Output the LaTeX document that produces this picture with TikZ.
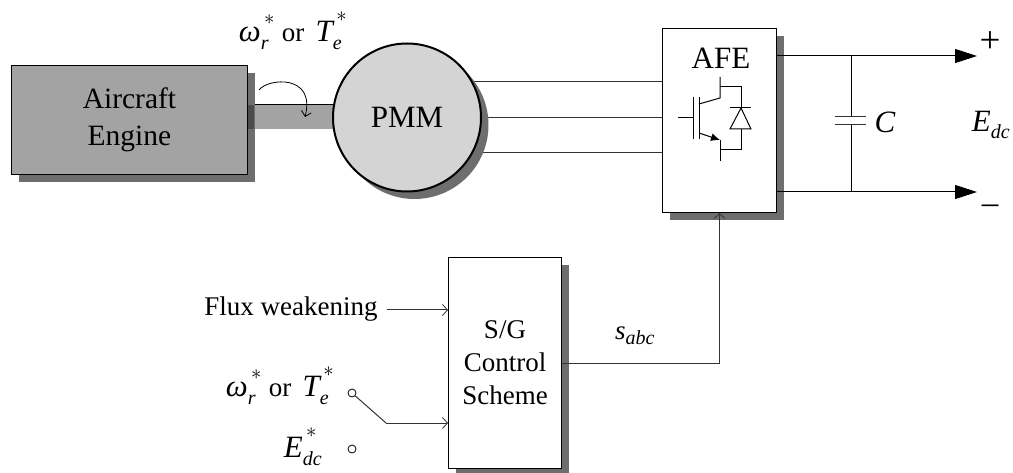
\documentclass[tikz,border=0pt]{standalone}
\usepackage{amsmath}
\usepackage{fontspec}
\setmainfont{Liberation Serif}
\usetikzlibrary{arrows.meta,shadows}
\definecolor{shadowgray}{HTML}{6E6E6E}
\definecolor{enginegray}{HTML}{A3A3A3}
\definecolor{pmmgray}{HTML}{D4D4D4}
\newcommand{\bigfont}{\fontsize{31}{34}\selectfont}
\newcommand{\midfont}{\fontsize{27}{32}\selectfont}
\newcommand{\starsym}[2]{{\bigfont$\textit{#1}^{\raisebox{8pt}{$\scriptstyle\,*$}}_{\raisebox{-2pt}{\textit{\scriptsize\fontsize{20}{20}\selectfont #2}}}$}}
\newcommand{\speedortorque}{\starsym{ω}{r} or \,\starsym{T}{e}}
\tikzset{
  block/.style={draw=black,fill=white,line width=1pt,inner sep=0pt,anchor=north west,
    align=center,copy shadow={shadow xshift=7.5pt,shadow yshift=-7.5pt,fill=shadowgray,draw=none}},
  wire/.style={draw=black!80,line width=1pt},
  thinarrow/.style={wire,-{Straight Barb[length=5pt,width=11pt,line width=.8pt]}},
  bigarrow/.style={wire,-{Triangle[length=22pt,width=14pt]}},
  device/.style={draw=black,line width=1pt},
  label/.style={inner sep=0pt,font=\midfont},
  contact/.style={circle,draw=black,fill=white,line width=.8pt,minimum size=8pt,inner sep=0pt}
}
\begin{document}
\begin{tikzpicture}[x=1pt,y=-1pt,>=stealth]
  \useasboundingbox (0,0) rectangle (1013,473);

  % shaft
  \node[fill=enginegray,minimum width=90pt,minimum height=24pt,inner sep=0pt] (shaft) at (290,117) {};
  \draw[line width=1pt] (shaft.north west) -- (shaft.north east);

  % engine and machine
  \node[block,fill=enginegray,minimum width=236pt,minimum height=109pt,font=\fontsize{29.5}{35}\selectfont] (engine) at (11,65) {Aircraft\\[2pt]Engine};
  \fill[black!70] (shaft.north west -| engine.east) rectangle (254,129);

  % three phases
  \foreach \n/\y in {a/82,b/118,c/153} {
    \coordinate (afe\n) at (662,\y);
    \coordinate (pmm\n) at (420,\y);
    \draw[wire] (pmm\n) -- (afe\n);
  }
  \node[circle,draw=black,fill=pmmgray,line width=2pt,minimum size=148pt,inner sep=0pt,font=\bigfont,
    copy shadow={shadow xshift=7.5pt,shadow yshift=-7.5pt,fill=shadowgray,draw=none}] (pmm) at (407,117.5) {PMM};

  % rotation of the shaft
  \coordinate (rotstart) at (259,90);
  \coordinate (rotend) at (305,117);
  \draw[line width=.8pt,-{Straight Barb[length=5pt,width=10pt,line width=.8pt]}] (rotstart)
    .. controls (268,78) and (316,74) .. (rotend);
  \node[label] (speedtop) at (293,31) {\speedortorque};

  % converter
  \node[block,minimum width=114pt,minimum height=184pt] (afe) at (662,28) {};
  \node[inner sep=0pt,font=\bigfont] (afelabel) at (721,58) {AFE};

  % igbt with diode
  \draw[device] (678,118) -- (693,118);
  \draw[device] (693,97) -- (693,139);
  \draw[device] (699,97) -- (699,139);
  \draw[device] (699,104) -- (720,98) -- (720,77);
  \draw[device] (720,87) -- (741,87) -- (741,150) -- (720,150);
  \draw[device,-{Latex[length=9pt,width=8pt]}] (699,133) -- (720,140);
  \draw[device] (720,140) -- (720,161);
  \draw[device] (730,108) -- (751,108);
  \draw[device,fill=white] (741,108) -- (730,129) -- (751,129) -- cycle;

  % dc side
  \coordinate (plus) at (977,56);
  \coordinate (minus) at (977,192);
  \coordinate (capp) at (851,56);
  \coordinate (capn) at (851,192);
  \coordinate (platetop) at (851,117);
  \coordinate (platebot) at (851,125);
  \draw[bigarrow,draw=black] (afe.east |- plus) -- (plus);
  \draw[bigarrow,draw=black] (afe.east |- minus) -- (minus);
  \draw[wire,draw=black] (capp) -- (platetop);
  \draw[wire,draw=black] (platebot) -- (capn);
  \draw[wire] (835,117) -- (866,117);
  \draw[wire] (835,125) -- (866,125);
  \node[inner sep=0pt,font=\bigfont] (clabel) at (885,122) {\textit{C}};
  \node[inner sep=0pt,font=\bigfont] (edc) at (991,125) {$\textit{E}_{\raisebox{-4pt}{\textit{\fontsize{20}{20}\selectfont dc}}}$};
  \node[inner sep=0pt,font=\fontsize{37}{40}\selectfont] (plussign) at (990,42) {+};
  \node[inner sep=0pt,font=\fontsize{33}{36}\selectfont] (minussign) at (990,209) {\textendash};

  % control
  \node[block,minimum width=113pt,minimum height=211pt,font=\midfont] (ctrl) at (448,257) {S/G\\[1pt]Control\\[1pt]Scheme};
  \draw[thinarrow] (ctrl.east) -| (afe.south);
  \node[label] (slabel) at (635,336) {$\textit{s}_{\raisebox{-1pt}{\textit{\fontsize{20}{20}\selectfont abc}}}$};

  % inputs
  \node[label] (flux) at (291,309) {Flux weakening};
  \coordinate (fluxin) at (448,310);
  \coordinate (fluxstart) at (387,310);
  \draw[thinarrow] (fluxstart) -- (fluxin);
  \node[label] (speedin) at (280,386) {\speedortorque};
  \node[label] (edcin) at (303,447) {\starsym{E}{dc}};
  \node[contact] (conta) at (352,393) {};
  \node[contact] (contb) at (352,449) {};
  \coordinate (swknee) at (386,423);
  \coordinate (swin) at (448,423);
  \draw[wire] (conta) -- (swknee);
  \draw[thinarrow] (swknee) -- (swin);
\end{tikzpicture}
\end{document}
